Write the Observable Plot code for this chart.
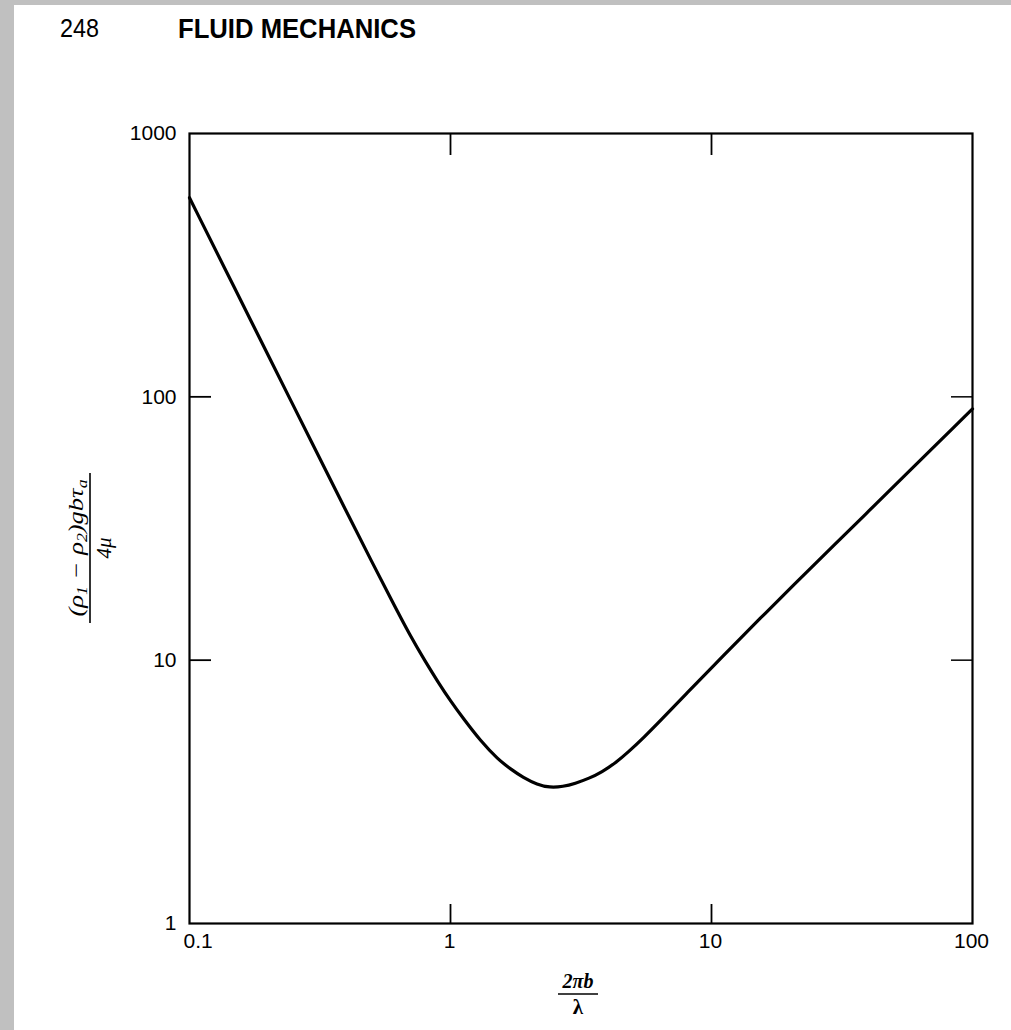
<!DOCTYPE html>
<html>
<head>
<meta charset="utf-8">
<script src="https://cdn.jsdelivr.net/npm/d3@7"></script>
<script src="https://cdn.jsdelivr.net/npm/@observablehq/plot@0.6"></script>
<style>
  html, body { margin: 0; padding: 0; background: #c0c0c0; width: 1011px; height: 1030px; overflow: hidden; }
  #page { position: absolute; left: 14px; top: 5px; width: 997px; height: 1025px; background: #fff; }
</style>
</head>
<body>
<div id="page"></div>
<script>
// Curve: x = 2πb/λ, y = (ρ1−ρ2)gbτa/4μ
const xValues = [0.1, 0.15, 0.2, 0.3, 0.4, 0.5, 0.6, 0.7, 0.8, 0.9, 1.0, 1.12, 1.3, 1.52, 1.7, 1.9, 2.15, 2.4, 2.7, 3.0, 3.4, 3.8, 4.3, 4.8, 5.5, 6.4, 8.0, 10, 13, 16, 20, 30, 40, 54, 70, 85, 100];
const yValues = [570, 255, 144, 64.5, 36.5, 23.6, 16.6, 12.4, 9.9, 8.2, 7.0, 6.0, 4.95, 4.2, 3.86, 3.58, 3.37, 3.28, 3.31, 3.4, 3.56, 3.76, 4.08, 4.48, 5.08, 5.92, 7.45, 9.35, 12.2, 15.0, 18.7, 27.8, 36.8, 49.3, 63.6, 76.8, 90];

const xTicks = [0.1, 1, 10, 100];
const xTickLabels = ["0.1", "1", "10", "100"];
const yTicks = [1, 10, 100, 1000];
const yTickLabels = ["1", "10", "100", "1000"];
const innerTicksX = [1, 10];
const innerTicksY = [10, 100];

const data = xValues.map((x, i) => ({x, y: yValues[i]}));

const W = 997, H = 1025;
const mL = 175, mR = 39, mT = 128, mB = 107;
const frameW = W - mL - mR, frameH = H - mT - mB;

const chart = Plot.plot({
  width: W,
  height: H,
  marginLeft: mL,
  marginRight: mR,
  marginTop: mT,
  marginBottom: mB,
  style: {fontFamily: "Liberation Sans, Arial, sans-serif", fontSize: "21px", color: "#000", background: "#fff"},
  x: {type: "log", domain: [0.1, 100], axis: null},
  y: {type: "log", domain: [1, 1000], axis: null},
  marks: [
    Plot.frame({stroke: "#000", strokeWidth: 2.2}),
    // inner ticks: top, bottom, left, right
    Plot.tickX(innerTicksX, {x: d => d, stroke: "#000", strokeWidth: 1.8, insetBottom: frameH - 22}),
    Plot.tickX(innerTicksX, {x: d => d, stroke: "#000", strokeWidth: 1.8, insetTop: frameH - 19}),
    Plot.tickY(innerTicksY, {y: d => d, stroke: "#000", strokeWidth: 1.8, insetRight: frameW - 22}),
    Plot.tickY(innerTicksY, {y: d => d, stroke: "#000", strokeWidth: 1.5, insetLeft: frameW - 21}),
    // tick labels
    Plot.text(xTicks.slice(0, 1), {x: d => d, text: (d, i) => xTickLabels[i], frameAnchor: "bottom", dy: 24, textAnchor: "start", dx: -6, fill: "#000"}),
    Plot.text(xTicks.slice(1), {x: d => d, text: (d, i) => xTickLabels[i + 1], frameAnchor: "bottom", dy: 24, dx: -1, fill: "#000"}),
    Plot.text(yTicks, {y: d => d, text: (d, i) => yTickLabels[i], frameAnchor: "left", textAnchor: "end", dx: -13, fill: "#000"}),
    // curve
    Plot.line(data, {x: "x", y: "y", curve: "basis", stroke: "#000", strokeWidth: 3.2})
  ]
});

document.getElementById("page").appendChild(chart);

const svg = d3.select(chart);

// running header
svg.append("text")
  .attr("x", 46).attr("y", 32)
  .attr("text-anchor", "start")
  .attr("font-family", "Liberation Sans Narrow, Liberation Sans, Arial, sans-serif")
  .attr("font-size", 26)
  .attr("textLength", 39).attr("lengthAdjust", "spacingAndGlyphs")
  .attr("fill", "#000")
  .text("248");
svg.append("text")
  .attr("x", 164).attr("y", 33)
  .attr("text-anchor", "start")
  .attr("font-family", "Liberation Sans Narrow, Liberation Sans, Arial, sans-serif")
  .attr("font-size", 27).attr("font-weight", "bold")
  .attr("textLength", 238).attr("lengthAdjust", "spacingAndGlyphs")
  .attr("fill", "#000")
  .text("FLUID MECHANICS");

// x-axis label: 2πb / λ
const xl = svg.append("g").attr("transform", "translate(564,0)")
  .attr("font-family", "Liberation Serif, Times New Roman, serif")
  .attr("fill", "#000");
xl.append("text").attr("x", 0).attr("y", 983).attr("text-anchor", "middle")
  .attr("font-size", 20).attr("font-weight", "bold").attr("font-style", "italic")
  .text("2πb");
xl.append("line").attr("x1", -20).attr("x2", 20).attr("y1", 989).attr("y2", 989)
  .attr("stroke", "#000").attr("stroke-width", 1.6);
xl.append("text").attr("x", 0).attr("y", 1009).attr("text-anchor", "middle")
  .attr("font-size", 21).attr("font-weight", "bold")
  .text("λ");

// y-axis label: (ρ1−ρ2)gbτa / 4μ, rotated
const yl = svg.append("g").attr("transform", "translate(76,543) rotate(-90)")
  .attr("font-family", "Liberation Serif, Times New Roman, serif")
  .attr("fill", "#000");
const num = yl.append("text").attr("x", 0).attr("y", -7).attr("text-anchor", "middle")
  .attr("font-size", 21).attr("font-style", "italic")
  .attr("textLength", 137).attr("lengthAdjust", "spacingAndGlyphs");
num.append("tspan").text("(ρ");
num.append("tspan").attr("font-size", 14).attr("dy", 4).text("1");
num.append("tspan").attr("dy", -4).text(" − ρ");
num.append("tspan").attr("font-size", 14).attr("dy", 4).text("2");
num.append("tspan").attr("dy", -4).text(")gbτ");
num.append("tspan").attr("font-size", 14).attr("dy", 4).text("a");
yl.append("line").attr("x1", -75).attr("x2", 75).attr("y1", 0).attr("y2", 0)
  .attr("stroke", "#000").attr("stroke-width", 1.6);
yl.append("text").attr("x", 0).attr("y", 21).attr("text-anchor", "middle")
  .attr("font-size", 21).attr("font-style", "italic")
  .text("4μ");
</script>
</body>
</html>
